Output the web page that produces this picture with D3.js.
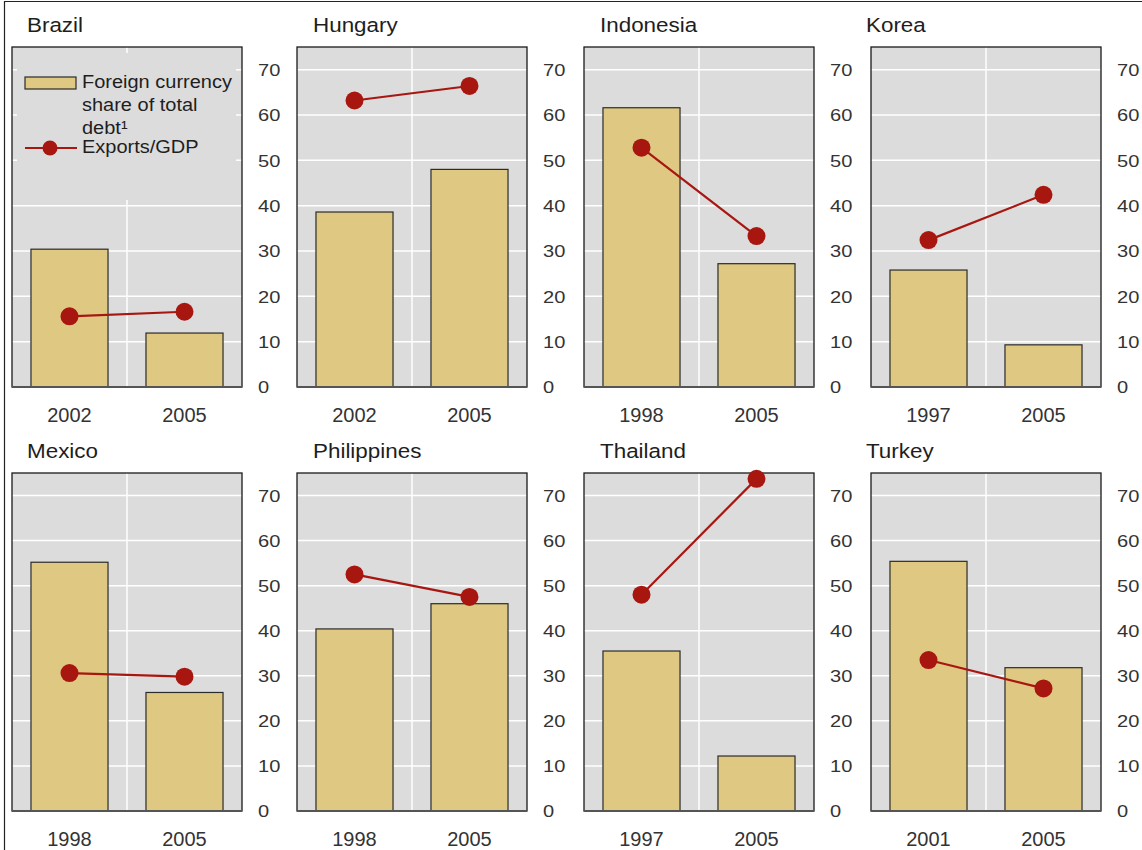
<!DOCTYPE html>
<html>
<head>
<meta charset="utf-8">
<script src="https://cdn.jsdelivr.net/npm/d3@7"></script>
<style>
  html, body { margin: 0; padding: 0; background: #fff; }
  svg { display: block; font-family: "Liberation Sans", Arial, sans-serif; }
</style>
</head>
<body>
<svg id="chart" width="1142" height="850"></svg>
<script>
// Small-multiple panels: foreign-currency share of total debt (bars)
// and exports as a share of GDP (dots joined by a line), in per cent.
const countries = ["Brazil", "Hungary", "Indonesia", "Korea",
                   "Mexico", "Philippines", "Thailand", "Turkey"];
const years = [
  ["2002", "2005"], ["2002", "2005"], ["1998", "2005"], ["1997", "2005"],
  ["1998", "2005"], ["1998", "2005"], ["1997", "2005"], ["2001", "2005"]
];
const fxShare = [
  [30.4, 11.9], [38.6, 48.0], [61.6, 27.2], [25.8, 9.3],
  [55.2, 26.3], [40.4, 46.0], [35.5, 12.2], [55.4, 31.8]
];
const exportsGdp = [
  [15.6, 16.6], [63.2, 66.4], [52.8, 33.3], [32.4, 42.4],
  [30.6, 29.8], [52.5, 47.5], [48.0, 73.7], [33.5, 27.2]
];
const yTicks = [0, 10, 20, 30, 40, 50, 60, 70];
const yMax = 75;
const legendLabels = ["Foreign currency", "share of total", "debt\u00B9", "Exports/GDP"];

// Layout
const colLeft = [12, 297, 584, 871];
const titleX = [27, 313, 600, 866];
const rowTop = [47, 473];
const rowHeight = [340, 338];
const panelW = 230;

const C = {
  plotBg: "#dcdcdc",
  grid: "#ffffff",
  bar: "#dfc882",
  barStroke: "#2b2b2b",
  line: "#a81610",
  text: "#1e1e1e",
  tick: "#333333"
};

const svg = d3.select("#chart");

// outer frame
svg.append("path")
  .attr("d", "M4.5,860 V1.5 H1150")
  .attr("fill", "none").attr("stroke", "#222").attr("stroke-width", 1.2);

// text helper with slight horizontal stretch
function stretchedText(g, x, y, str, size, sx, anchor, fill) {
  return g.append("text")
    .attr("transform", `translate(${x},${y}) scale(${sx},1)`)
    .attr("font-size", size)
    .attr("text-anchor", anchor || "start")
    .attr("fill", fill || C.text)
    .text(str);
}

countries.forEach((name, i) => {
  const col = i % 4, row = Math.floor(i / 4);
  const x0 = colLeft[col], y0 = rowTop[row], h = rowHeight[row];
  const g = svg.append("g").attr("transform", `translate(${x0},${y0})`);

  const x = d3.scaleBand().domain(years[i]).range([0, panelW])
    .paddingInner(0.33).paddingOuter(0.165);
  const y = d3.scaleLinear().domain([0, yMax]).range([h, 0]);

  // title
  stretchedText(svg, titleX[col], y0 - 15, name, 19.5, 1.15, "start", C.text);

  // background
  g.append("rect").attr("width", panelW).attr("height", h).attr("fill", C.plotBg);

  // horizontal gridlines
  g.append("g").selectAll("line")
    .data(yTicks.filter(t => t > 0))
    .join("line")
    .attr("x1", 0).attr("x2", panelW)
    .attr("y1", d => y(d)).attr("y2", d => y(d))
    .attr("stroke", C.grid).attr("stroke-width", 1.5);
  // vertical gridline between categories
  g.append("line")
    .attr("x1", panelW / 2).attr("x2", panelW / 2)
    .attr("y1", 0).attr("y2", h)
    .attr("stroke", C.grid).attr("stroke-width", 1.5);

  // legend sits inside the first panel and masks the grid behind it
  if (i === 0) {
    const lg = g.append("g");
    lg.append("rect").attr("x", 5).attr("y", 6).attr("width", 219).attr("height", 147)
      .attr("fill", C.plotBg);
    lg.append("rect").attr("x", 13).attr("y", 30).attr("width", 51).attr("height", 12)
      .attr("fill", C.bar).attr("stroke", C.barStroke).attr("stroke-width", 1.2);
    stretchedText(lg, 70, 41, legendLabels[0], 18.5, 1.08, "start", C.text);
    stretchedText(lg, 70, 64, legendLabels[1], 18.5, 1.08, "start", C.text);
    stretchedText(lg, 70, 87, legendLabels[2], 18.5, 1.08, "start", C.text);
    lg.append("line").attr("x1", 13).attr("x2", 65).attr("y1", 101).attr("y2", 101)
      .attr("stroke", C.line).attr("stroke-width", 2.2);
    lg.append("circle").attr("cx", 38).attr("cy", 101).attr("r", 7.5).attr("fill", C.line);
    stretchedText(lg, 70, 106, legendLabels[3], 18.5, 1.08, "start", C.text);
  }

  // bars
  g.append("g").selectAll("rect")
    .data(fxShare[i])
    .join("rect")
    .attr("x", (d, k) => x(years[i][k]))
    .attr("width", x.bandwidth())
    .attr("y", d => y(d))
    .attr("height", d => h - y(d))
    .attr("fill", C.bar)
    .attr("stroke", C.barStroke)
    .attr("stroke-width", 1.2);

  // plot frame
  g.append("rect").attr("width", panelW).attr("height", h)
    .attr("fill", "none").attr("stroke", "#1a1a1a").attr("stroke-width", 1.3);
  g.append("line").attr("x1", 0).attr("x2", panelW).attr("y1", h).attr("y2", h)
    .attr("stroke", "#555").attr("stroke-width", 2);

  // exports line and markers
  const pts = exportsGdp[i].map((v, k) => [x(years[i][k]) + x.bandwidth() / 2, y(v)]);
  g.append("path")
    .attr("d", d3.line()(pts))
    .attr("fill", "none").attr("stroke", C.line).attr("stroke-width", 2.2);
  g.append("g").selectAll("circle")
    .data(pts)
    .join("circle")
    .attr("cx", d => d[0]).attr("cy", d => d[1]).attr("r", 9)
    .attr("fill", C.line);

  // right-hand value axis
  const yAxis = d3.axisRight(y).tickValues(yTicks).tickSize(0).tickPadding(0);
  const ya = g.append("g").attr("transform", `translate(${panelW + 16},0)`).call(yAxis);
  ya.select(".domain").remove();
  ya.selectAll(".tick text")
    .attr("font-size", 17)
    .attr("font-family", "Liberation Sans, Arial, sans-serif")
    .attr("fill", C.tick)
    .attr("dy", "0.34em")
    .attr("transform", "scale(1.18,1)");

  // category axis
  const xAxis = d3.axisBottom(x).tickSize(0).tickPadding(0);
  const xa = g.append("g").attr("transform", `translate(0,${h + 21})`).call(xAxis);
  xa.select(".domain").remove();
  xa.selectAll(".tick text")
    .attr("font-size", 20)
    .attr("font-family", "Liberation Sans, Arial, sans-serif")
    .attr("fill", C.tick);
});
</script>
</body>
</html>
